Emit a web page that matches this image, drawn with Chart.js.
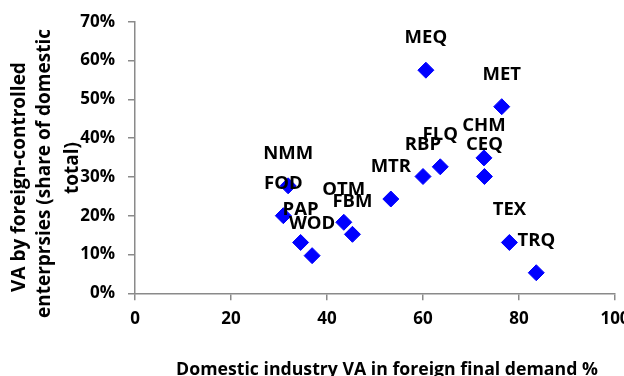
<!DOCTYPE html>
<html>
<head>
<meta charset="utf-8">
<script src="https://cdn.jsdelivr.net/npm/chart.js@4/dist/chart.umd.min.js"></script>
<style>
  html, body { margin: 0; padding: 0; background: #ffffff; }
  canvas { display: block; }
</style>
</head>
<body>
<canvas id="chart" width="624" height="376"></canvas>
<script>
// Industry codes
const sectors = ['MEQ', 'MET', 'CHM', 'CEQ', 'FLQ', 'RBP', 'MTR', 'NMM', 'FOD', 'PAP', 'WOD', 'OTM', 'FBM', 'TEX', 'TRQ'];
// Domestic industry VA embodied in foreign final demand (%)
const foreignDemandShare = [60.6, 76.4, 72.7, 72.8, 63.6, 60.0, 53.3, 31.9, 30.9, 34.5, 36.9, 43.5, 45.3, 78.0, 83.6];
// VA by foreign-controlled enterprises, share of domestic total (%)
const foreignControlledShare = [57.5, 48.1, 34.9, 30.1, 32.6, 30.1, 24.3, 27.7, 20.0, 13.1, 9.7, 18.3, 15.2, 13.1, 5.3];

const xTicks = [0, 20, 40, 60, 80, 100];
const yTicks = [0, 10, 20, 30, 40, 50, 60, 70];

const xTitle = 'Domestic industry VA in foreign final demand %';
const yTitleLines = ['VA by foreign-controlled', 'enterprsies (share of domestic', 'total)'];

const FONT = '"Open Sans", "Liberation Sans", sans-serif';
const AXIS_GREY = '#8a8a8a';

const points = foreignDemandShare.map((x, i) => ({ x: x, y: foreignControlledShare[i] }));

// Sector codes placed above each marker
const pointLabels = {
  id: 'pointLabels',
  afterDatasetsDraw(chart) {
    const ctx = chart.ctx;
    const meta = chart.getDatasetMeta(0);
    ctx.save();
    ctx.font = 'bold 18.5px ' + FONT;
    ctx.fillStyle = '#000000';
    ctx.textAlign = 'center';
    ctx.textBaseline = 'alphabetic';
    meta.data.forEach((el, i) => {
      ctx.fillText(sectors[i], el.x, el.y - 27);
    });
    ctx.restore();
  }
};

// Axis titles
const axisTitles = {
  id: 'axisTitles',
  afterDraw(chart) {
    const ctx = chart.ctx;
    ctx.save();
    ctx.fillStyle = '#000000';
    ctx.textAlign = 'center';
    ctx.textBaseline = 'alphabetic';

    ctx.font = 'bold 17.7px ' + FONT;
    ctx.fillText(xTitle, 387, 375);

    ctx.font = 'bold 19px ' + FONT;
    const linePos = [[25, 177], [50, 173.5], [78, 168]];
    yTitleLines.forEach((line, i) => {
      ctx.save();
      ctx.translate(linePos[i][0], linePos[i][1]);
      ctx.rotate(-Math.PI / 2);
      ctx.fillText(line, 0, 0);
      ctx.restore();
    });
    ctx.restore();
  }
};

new Chart(document.getElementById('chart'), {
  type: 'scatter',
  data: {
    datasets: [{
      data: points,
      pointStyle: 'rectRot',
      pointRadius: 8,
      pointHoverRadius: 8,
      backgroundColor: '#0000ff',
      borderColor: '#0000ff',
      borderWidth: 1
    }]
  },
  options: {
    responsive: false,
    animation: false,
    events: [],
    layout: { padding: { top: 21.7, right: 6.3, bottom: 0, left: 0 } },
    plugins: {
      legend: { display: false },
      tooltip: { enabled: false }
    },
    scales: {
      x: {
        type: 'linear',
        min: xTicks[0],
        max: xTicks[xTicks.length - 1],
        afterBuildTicks(scale) { scale.ticks = xTicks.map(v => ({ value: v })); },
        afterFit(scale) {
          scale.height = 82.7;
          scale.paddingLeft = 0;
          scale.paddingRight = 0;
        },
        grid: { display: true, drawOnChartArea: false, drawTicks: true, tickLength: 7, color: AXIS_GREY, lineWidth: 1.5 },
        border: { display: true, color: AXIS_GREY, width: 1.5 },
        ticks: {
          color: '#000000',
          padding: 9,
          maxRotation: 0,
          font: { family: FONT, size: 17, weight: 'bold' }
        }
      },
      y: {
        type: 'linear',
        min: yTicks[0],
        max: yTicks[yTicks.length - 1],
        afterBuildTicks(scale) { scale.ticks = yTicks.map(v => ({ value: v })); },
        afterFit(scale) {
          scale.width = 135;
          scale.paddingTop = 0;
          scale.paddingBottom = 0;
        },
        grid: { display: true, drawOnChartArea: false, drawTicks: true, tickLength: 7, color: AXIS_GREY, lineWidth: 1.5 },
        border: { display: true, color: AXIS_GREY, width: 1.5 },
        ticks: {
          color: '#000000',
          padding: 13,
          font: { family: FONT, size: 17, weight: 'bold' },
          callback: v => v + '%'
        }
      }
    }
  },
  plugins: [pointLabels, axisTitles]
});
</script>
</body>
</html>
